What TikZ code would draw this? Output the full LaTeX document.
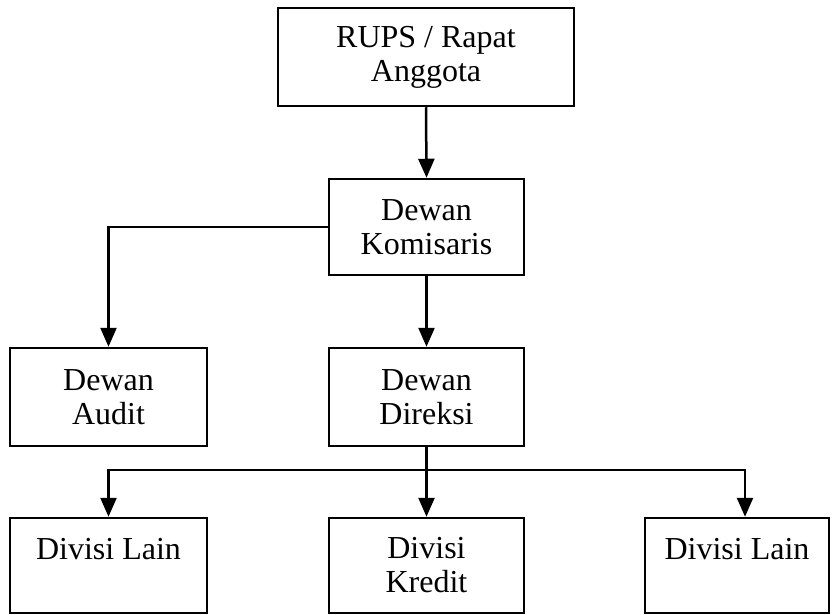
\documentclass[tikz,border=0pt]{standalone}
\usepackage{fontspec}
\setmainfont{Liberation Serif}
\usetikzlibrary{arrows.meta}
\begin{document}
\begin{tikzpicture}[x=1pt,y=-1pt,
  orgbox/.style={draw, line width=2.5pt, inner sep=0pt, align=center,
    font=\fontsize{32}{34}\selectfont},
  link/.style={line width=2.5pt},
  arr/.style={link, -{Triangle[length=19pt,width=16pt]}}]
\useasboundingbox (0,0) rectangle (832,615);
% boxes
\node[orgbox, minimum width=296pt, minimum height=98pt] (rups) at (426,57) {RUPS / Rapat\\Anggota};
\node[orgbox, minimum width=195pt, minimum height=96pt] (kom) at (426.5,227) {Dewan\\Komisaris};
\node[orgbox, minimum width=197pt, minimum height=98pt] (audit) at (108.5,397) {Dewan\\Audit};
\node[orgbox, minimum width=195pt, minimum height=98pt] (dir) at (426.5,397) {Dewan\\Direksi};
\node[orgbox, minimum width=197pt, minimum height=95pt] (lainA) at (108.5,565.5) {Divisi Lain\\~};
\node[orgbox, minimum width=195pt, minimum height=95pt] (kredit) at (426.5,565.5) {Divisi\\Kredit};
\node[orgbox, minimum width=184pt, minimum height=95pt] (lainB) at (737,565.5) {Divisi Lain\\~};
% connectors
\draw[arr] (rups.south) -- (kom.north);
\draw[arr] (kom.west) -| (audit.north);
\draw[arr] (kom.south) -- (dir.north);
\coordinate (branch) at (426.5,470);
\draw[link] (dir.south) -- (branch);
\draw[arr] (branch) -| (lainA.north);
\draw[arr] (branch) -- (kredit.north);
\draw[arr] (branch) -| ([xshift=8pt]lainB.north);
\end{tikzpicture}
\end{document}
